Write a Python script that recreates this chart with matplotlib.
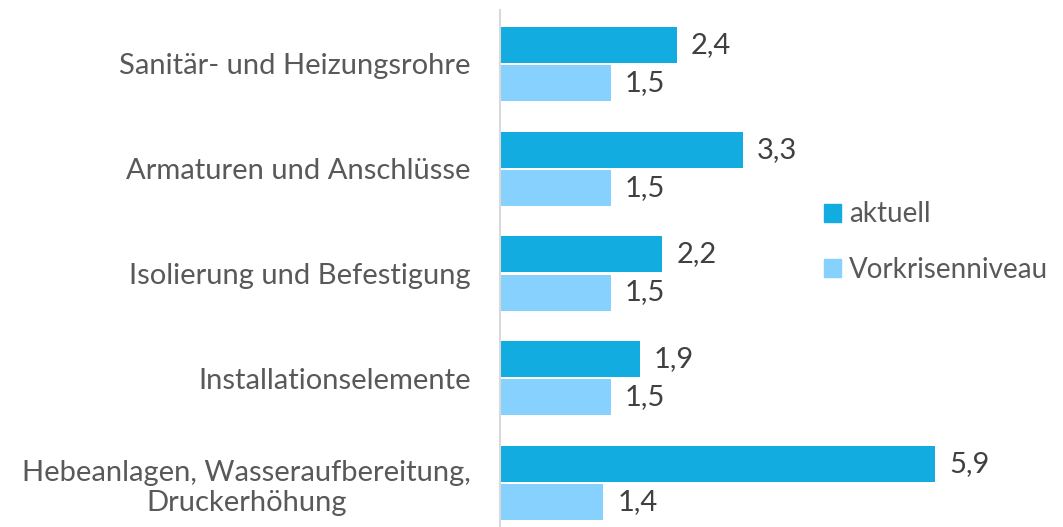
import matplotlib.pyplot as plt
from matplotlib.patches import Patch

categories = ["Sanitär- und Heizungsrohre", "Armaturen und Anschlüsse",
              "Isolierung und Befestigung", "Installationselemente",
              "Hebeanlagen, Wasseraufbereitung,\nDruckerhöhung"]
aktuell = [2.4, 3.3, 2.2, 1.9, 5.9]
vorkrise = [1.5, 1.5, 1.5, 1.5, 1.4]
series_names = ["aktuell", "Vorkrisenniveau"]

dark = "#12ACE0"
light = "#87D1FF"
label_col = "#595959"
value_col = "#404040"
fs = 21

plt.rcParams['font.family'] = ['Lato', 'DejaVu Sans']

fig = plt.figure(figsize=(10.63, 5.27), dpi=100)
ax = fig.add_axes([500 / 1063, 0, 563 / 1063, 517 / 527])

h = 0.344
off = h / 2 + 0.01
ypos = list(range(len(categories)))
y1 = [y - off for y in ypos]
y2 = [y + off for y in ypos]
b1 = ax.barh(y1, aktuell, height=h, color=dark)
b2 = ax.barh(y2, vorkrise, height=h, color=light)

for bars, vals in ((b1, aktuell), (b2, vorkrise)):
    for bar, v in zip(bars, vals):
        ax.annotate(f"{v:.1f}".replace(".", ","),
                    (bar.get_width(), bar.get_y() + bar.get_height() / 2),
                    xytext=(10, 0), textcoords="offset points",
                    va="center", ha="left", fontsize=fs, color=value_col)

ax.set_xlim(0, 563 / 73.75)
ax.set_ylim(4.42, -0.515)
ax.set_yticks(ypos)
ax.set_yticklabels(categories, fontsize=fs, color=label_col,
                   multialignment="center")
ax.tick_params(axis="y", length=0, pad=21)
ax.set_xticks([])
for s in ("top", "right", "bottom"):
    ax.spines[s].set_visible(False)
ax.spines["left"].set_color("#D9D9D9")
ax.spines["left"].set_linewidth(1.5)

handles = [Patch(color=dark), Patch(color=light)]
leg = fig.legend(handles, series_names, loc="center left",
                 bbox_to_anchor=(818 / 1063, 1 - 242 / 527), frameon=False,
                 fontsize=20, handlelength=0.62, handleheight=0.62,
                 handletextpad=0.3, labelspacing=1.05, labelcolor=label_col,
                 borderaxespad=0, borderpad=0.2)

fig.savefig("out.png", dpi=100)
